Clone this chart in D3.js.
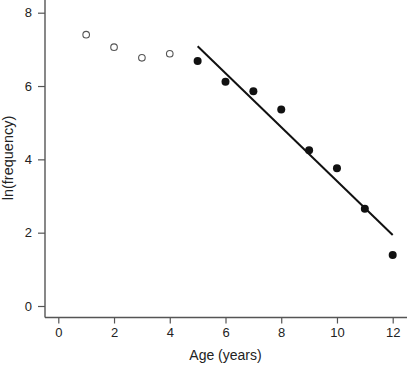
<!DOCTYPE html>
<html>
<head>
<meta charset="utf-8">
<script src="https://cdn.jsdelivr.net/npm/d3@7"></script>
<style>
	body { margin: 0; background: #fff; }
	svg { display: block; }
</style>
</head>
<body>
<div id="chart"></div>
<script>
// age classes (years) and ln(frequency)
const openAges = [1, 2, 3, 4];
const openVals = [7.4, 7.06, 6.77, 6.88];
const fitAges = [5, 6, 7, 8, 9, 10, 11, 12];
const fitVals = [6.68, 6.12, 5.86, 5.36, 4.25, 3.76, 2.65, 1.39];
const xTicks = [0, 2, 4, 6, 8, 10, 12];
const yTicks = [0, 2, 4, 6, 8];

var width = 407,
	height = 366;

// frame lines
const left = 45,
	bottom = 317.5;

var x = d3.scaleLinear().domain([0, 12]).range([58.3, 392.7]);
var y = d3.scaleLinear().domain([0, 8]).range([306, 12.7]);

var svg = d3
	.select("#chart")
	.append("svg")
	.attr("width", width)
	.attr("height", height)
	.style("font-family", "'Liberation Sans', Arial, sans-serif");

// least squares fit for the filled points
const mx = d3.mean(fitAges),
	my = d3.mean(fitVals);
const slope =
	d3.sum(fitAges, (a, i) => (a - mx) * (fitVals[i] - my)) /
	d3.sum(fitAges, (a) => (a - mx) * (a - mx));
const intercept = my - slope * mx;

const axisColor = "#555";

const xAxis = svg
	.append("g")
	.attr("transform", `translate(0,${bottom})`)
	.call(d3.axisBottom(x).tickValues(xTicks).tickSize(6).tickPadding(4));
const yAxis = svg
	.append("g")
	.attr("transform", `translate(${left},0)`)
	.call(d3.axisLeft(y).tickValues(yTicks).tickSize(7).tickPadding(6));

[xAxis, yAxis].forEach((g) => {
	g.select(".domain").remove();
	g.selectAll("line").attr("stroke", axisColor).attr("stroke-width", 1.2);
	g.selectAll("text")
		.attr("fill", "#222")
		.style("font-size", "13px")
		.style("font-family", "'Liberation Sans', Arial, sans-serif");
});

svg.append("line")
	.attr("x1", left).attr("x2", width)
	.attr("y1", bottom).attr("y2", bottom)
	.attr("stroke", axisColor).attr("stroke-width", 1.4);
svg.append("line")
	.attr("x1", left).attr("x2", left)
	.attr("y1", 0).attr("y2", bottom)
	.attr("stroke", axisColor).attr("stroke-width", 1.4);

// regression line
svg.append("line")
	.attr("x1", x(fitAges[0]))
	.attr("y1", y(intercept + slope * fitAges[0]))
	.attr("x2", x(fitAges[fitAges.length - 1]))
	.attr("y2", y(intercept + slope * fitAges[fitAges.length - 1]))
	.attr("stroke", "#111")
	.attr("stroke-width", 2);

svg.selectAll(".open")
	.data(openAges)
	.join("circle")
	.attr("class", "open")
	.attr("cx", (d) => x(d))
	.attr("cy", (d, i) => y(openVals[i]))
	.attr("r", 3.3)
	.attr("fill", "#fff")
	.attr("stroke", "#555")
	.attr("stroke-width", 1.1);

svg.selectAll(".filled")
	.data(fitAges)
	.join("circle")
	.attr("class", "filled")
	.attr("cx", (d) => x(d))
	.attr("cy", (d, i) => y(fitVals[i]))
	.attr("r", 4)
	.attr("fill", "#111");

svg.append("text")
	.attr("x", x(6))
	.attr("y", 360)
	.attr("text-anchor", "middle")
	.style("font-size", "14px")
	.attr("fill", "#222")
	.text("Age (years)");

svg.append("text")
	.attr("transform", "translate(13,158) rotate(-90)")
	.attr("text-anchor", "middle")
	.style("font-size", "14.5px")
	.attr("fill", "#222")
	.text("ln(frequency)");
</script>
</body>
</html>
